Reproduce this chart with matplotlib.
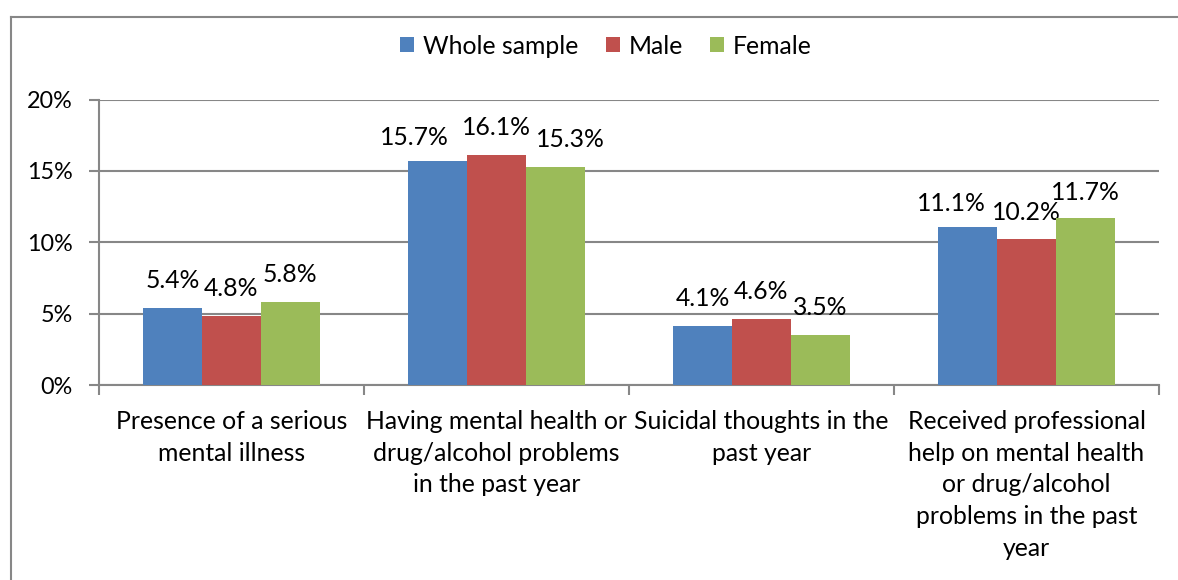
import numpy as np
import matplotlib
matplotlib.use('Agg')
from matplotlib import pyplot as plt
from matplotlib.lines import Line2D
from matplotlib.ticker import FuncFormatter

categories = ['Presence of a serious\nmental illness',
              'Having mental health or\ndrug/alcohol problems\nin the past year',
              'Suicidal thoughts in the\npast year',
              'Received professional\nhelp on mental health\nor drug/alcohol\nproblems in the past\nyear']
series = ['Whole sample', 'Male', 'Female']
whole = [5.4, 15.7, 4.1, 11.1]
male = [4.8, 16.1, 4.6, 10.2]
female = [5.8, 15.3, 3.5, 11.7]
colors = ['#4F81BD', '#C0504D', '#9BBB59']
y_ticks = [0, 5, 10, 15, 20]

# nudges (in pixels) for value labels that would otherwise collide
label_dx = [[0, -23, 0, -16], [0, 0, 0, 0], [0, 15, 0, 0]]
label_dy = [[0, -4.5, 0, -4], [0, 0, 0, -1], [0, 0, 0, -2]]

plt.rcParams['font.family'] = ['Lato', 'DejaVu Sans']
W, H = 1178, 580
fs = 17.8
fig = plt.figure(figsize=(W / 100, H / 100), dpi=100)
ax = fig.add_axes([99 / W, 1 - 385 / H, (1159 - 99) / W, (385 - 99.5) / H])

gray = '#878787'
x = np.arange(len(categories))
width = 0.222
for i, (name, vals) in enumerate(zip(series, [whole, male, female])):
    pos = x + (i - 1) * width
    ax.bar(pos, vals, width, color=colors[i], label=name, zorder=3)
    for j, (px, v) in enumerate(zip(pos, vals)):
        ax.annotate('%.1f%%' % v, (px, v), xytext=(label_dx[i][j] * 0.72, (20 + label_dy[i][j]) * 0.72),
                    textcoords='offset points', ha='center', va='baseline', fontsize=fs)

ax.set_xlim(-0.5, len(categories) - 0.5)
ax.set_ylim(0, 20)
ax.set_yticks(y_ticks)
ax.yaxis.set_major_formatter(FuncFormatter(lambda v, p: '%d%%' % v))
ax.yaxis.grid(True, color=gray, linewidth=1.5, zorder=0)
ax.tick_params(axis='y', length=7, width=1.5, color=gray, labelsize=fs - 1, pad=12)

# category separators as ticks, labels centred under groups
ax.set_xticks(np.arange(len(categories) + 1) - 0.5)
ax.set_xticklabels([])
ax.set_xticks(x, minor=True)
ax.set_xticklabels(categories, minor=True, fontsize=fs, linespacing=1.46)
ax.tick_params(axis='x', which='major', length=7, width=1.5, color=gray, direction='out')
ax.tick_params(axis='x', which='minor', length=0, pad=18)

for side in ['top', 'right']:
    ax.spines[side].set_visible(False)
for side in ['left', 'bottom']:
    ax.spines[side].set_color(gray)
    ax.spines[side].set_linewidth(1.5)

ax.legend(loc='center', bbox_to_anchor=(606 / W, 1 - 46 / H), bbox_transform=fig.transFigure,
          ncol=3, frameon=False, fontsize=fs, handlelength=0.57, handleheight=0.57,
          handletextpad=0.36, columnspacing=1.1)

# chart frame
fig.add_artist(Line2D([11 / W, 11 / W], [0, 1 - 17 / H], transform=fig.transFigure, color=gray, lw=1.5))
fig.add_artist(Line2D([11 / W, 1], [1 - 17 / H, 1 - 17 / H], transform=fig.transFigure, color=gray, lw=1.5))

fig.savefig('out.png', dpi=100)
